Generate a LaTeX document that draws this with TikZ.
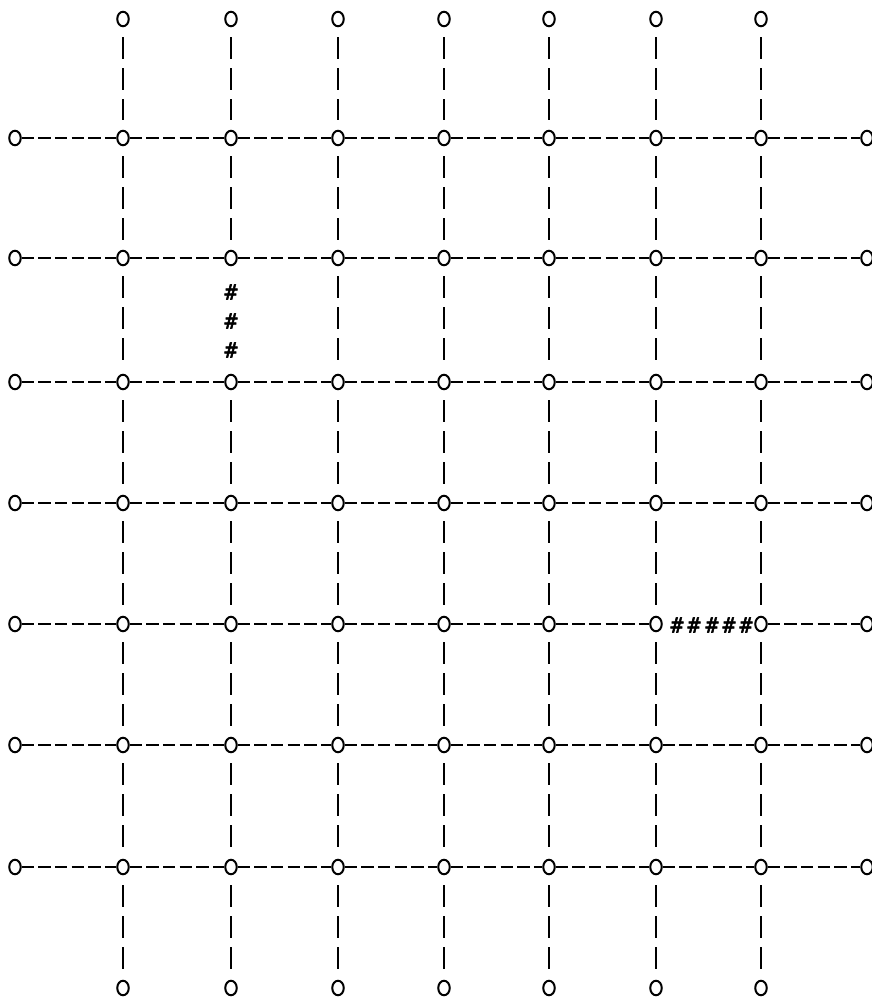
\documentclass[tikz,border=0pt]{standalone}
\usepackage{fontspec}
\newfontfamily\hashfont[FakeBold=2.5]{DejaVu Sans Mono}
\usetikzlibrary{shapes.geometric}
\begin{document}
\begin{tikzpicture}[x=1pt,y=-1pt,
  vtx/.style={ellipse,draw,line width=2pt,minimum width=11.5pt,minimum height=14.5pt,inner sep=0pt},
  hline/.style={line width=2.7pt,dash pattern=on 12.5pt off 4.1pt},
  vline/.style={line width=2.4pt,dash pattern=on 22pt off 9pt,shorten <=10pt,shorten >=10pt},
  hashmark/.style={font=\hashfont\fontsize{21}{21}\selectfont,inner sep=0pt}]
\useasboundingbox (0,0) rectangle (871,1006);
% grid nodes
\foreach \y [count=\r] in {138,258,382,503,624,745,867}{
  \foreach \x [count=\c from 0] in {15,123,231,338,444,549,656,761,867}{
    \node[vtx] (n-\r-\c) at (\x,\y) {};
  }
}
\foreach \x [count=\c] in {123,231,338,444,549,656,761}{
  \node[vtx] (n-0-\c) at (\x,19) {};
  \node[vtx] (n-8-\c) at (\x,988) {};
}
% horizontal connectors
\foreach \r in {1,...,7}{
  \foreach \c in {0,...,7}{
    \pgfmathtruncatemacro\d{\c+1}
    \pgfmathtruncatemacro\ok{(\r==5 && \c==6) ? 0 : 1}
    \ifnum\ok=1 \draw[hline] (n-\r-\c) -- (n-\r-\d); \fi
  }
}
% vertical connectors
\foreach \c in {1,...,7}{
  \foreach \r in {0,...,7}{
    \pgfmathtruncatemacro\s{\r+1}
    \pgfmathtruncatemacro\ok{(\r==2 && \c==2) ? 0 : 1}
    \ifnum\ok=1 \draw[vline] (n-\r-\c) -- (n-\s-\c); \fi
  }
}
% hash marks
\node[hashmark] (hv1) at (231,292) {\#};
\node[hashmark] (hv2) at (231,321) {\#};
\node[hashmark] (hv3) at (231,350) {\#};
\foreach \x [count=\i] in {677,694,712,729,746}{
  \node[hashmark] (hh\i) at (\x,625) {\#};
}
\end{tikzpicture}
\end{document}
